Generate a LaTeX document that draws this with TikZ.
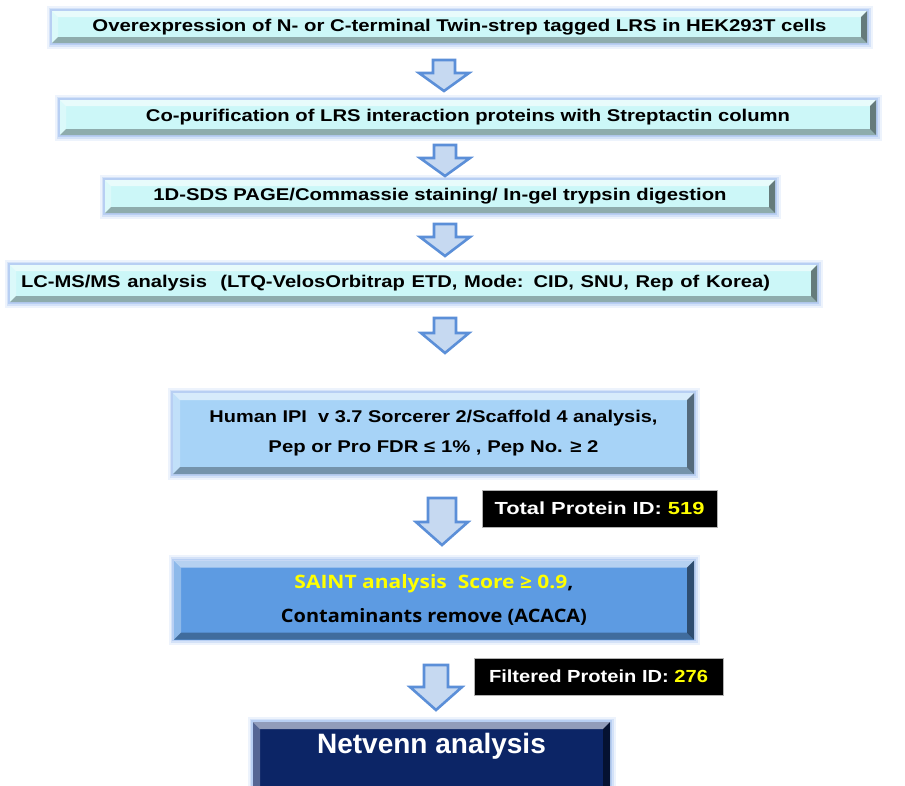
\documentclass[tikz,border=0pt]{standalone}
\usepackage{graphicx}
\usepackage{fontspec}
\setmainfont{Liberation Sans}
\newfontfamily\roundfont{Open Sans}
\definecolor{cyanfill}{HTML}{CCF7F8}
\definecolor{skyfill}{HTML}{A7D3F7}
\definecolor{midblue}{HTML}{5D9BE2}
\definecolor{navy}{HTML}{0C2566}
\definecolor{glowblue}{HTML}{9DBDF0}
\definecolor{arrowfill}{HTML}{C6D9F1}
\definecolor{arrowline}{HTML}{5B8FD8}
\definecolor{hiyellow}{HTML}{FFFF00}
% set a line of text to a given width, keeping its height
\newcommand\fitw[2]{\resizebox{#1}{\height}{#2}}
\tikzset{
  glow/.style={preaction={draw=glowblue,line width=11pt,opacity=.18},
               preaction={draw=glowblue,line width=7pt,opacity=.3},
               preaction={draw=glowblue,line width=3.5pt,opacity=.5}},
  bevel/.style={path picture={
     \fill[white,opacity=.55] (path picture bounding box.north west) -- (path picture bounding box.north east)
        -- ([shift={(-#1,-#1)}]path picture bounding box.north east) -- ([shift={(#1,-#1)}]path picture bounding box.north west) -- cycle;
     \fill[white,opacity=.3] (path picture bounding box.north west) -- (path picture bounding box.south west)
        -- ([shift={(#1,#1)}]path picture bounding box.south west) -- ([shift={(#1,-#1)}]path picture bounding box.north west) -- cycle;
     \fill[black,opacity=.5] (path picture bounding box.north east) -- (path picture bounding box.south east)
        -- ([shift={(-#1,#1)}]path picture bounding box.south east) -- ([shift={(-#1,-#1)}]path picture bounding box.north east) -- cycle;
     \fill[black,opacity=.3] (path picture bounding box.south west) -- (path picture bounding box.south east)
        -- ([shift={(-#1,#1)}]path picture bounding box.south east) -- ([shift={(#1,#1)}]path picture bounding box.south west) -- cycle;
  }},
  flowbox/.style={draw=none, inner sep=0pt, outer sep=0pt, align=center,
                  font=\bfseries\fontsize{17}{20}\selectfont},
  tagbox/.style={fill=black, draw=gray!60, line width=0.8pt, text=white, inner sep=0pt,
                 font=\bfseries\fontsize{17.5}{20}\selectfont},
  blockarrow/.style={fill=arrowfill, draw=arrowline, line width=2.6pt, line join=miter}
}
% downward block arrow: centre x, top, start of head, tip, shaft half-width, head half-width
\newcommand\flowarrow[6]{%
  \draw[blockarrow] (#1-#5,#2) -- (#1+#5,#2) -- (#1+#5,#3) -- (#1+#6,#3) -- (#1,#4)
     -- (#1-#6,#3) -- (#1-#5,#3) -- cycle;}
\begin{document}
\begin{tikzpicture}[x=1pt,y=-1pt]
\useasboundingbox (0,0) rectangle (905,785);
\clip (0,0) rectangle (905,785);
\fill[white] (0,0) rectangle (905,785);

% process steps
\node[flowbox, fill=cyanfill, glow, bevel=6pt, minimum width=815pt, minimum height=32pt]
  (s1) at (459.5,27) {\fitw{734pt}{Overexpression of N- or C-terminal Twin-strep tagged LRS in HEK293T cells}};
\node[flowbox, fill=cyanfill, glow, bevel=6pt, minimum width=816pt, minimum height=35pt]
  (s2) at (468,117.5) {\fitw{644pt}{Co-purification of LRS interaction proteins with Streptactin column}};
\node[flowbox, fill=cyanfill, glow, bevel=6pt, minimum width=670pt, minimum height=33pt]
  (s3) at (440,196.5) {\fitw{573pt}{1D-SDS PAGE/Commassie staining/ In-gel trypsin digestion}};
\node[flowbox, fill=cyanfill, glow, bevel=6pt, minimum width=807pt, minimum height=37pt,
      inner xsep=11pt, text width=785pt, align=left]
  (s4) at (413.5,283.5) {\fitw{749pt}{LC-MS/MS analysis\ \ (LTQ-VelosOrbitrap ETD, Mode: CID, SNU, Rep of Korea)}};
\node[flowbox, fill=skyfill, glow, bevel=7pt, minimum width=521pt, minimum height=81pt,
      font=\bfseries\fontsize{17}{30}\selectfont]
  (s5) at (433.5,433.5) {\fitw{448pt}{Human IPI\ \ v 3.7 Sorcerer 2/Scaffold 4 analysis,}\\
                         \fitw{330pt}{Pep or Pro FDR ≤ 1\% , Pep No. ≥ 2}};
\node[flowbox, fill=midblue, glow, bevel=7pt, minimum width=520pt, minimum height=79pt,
      font=\roundfont\bfseries\fontsize{18.5}{34}\selectfont]
  (s6) at (434,600) {\fitw{279pt}{\textcolor{hiyellow}{SAINT analysis\ \ Score ≥\ 0.9},}\\
                     \fitw{306pt}{Contaminants remove (ACACA)}};
\node[flowbox, fill=navy, glow, bevel=7pt, minimum width=357pt, text height=31pt, text depth=47pt,
      text=white, font=\bfseries\fontsize{28}{32}\selectfont]
  (s7) at (431.5,761) {Netvenn analysis};

% protein counts
\node[tagbox, minimum width=235pt, minimum height=37pt] (t1) at (599.5,508.5)
  {\fitw{210pt}{Total Protein ID: \textcolor{hiyellow}{519}}};
\node[tagbox, minimum width=249pt, minimum height=37pt] (t2) at (598.5,676.5)
  {\fitw{219pt}{Filtered Protein ID: \textcolor{hiyellow}{276}}};

% block arrows between the steps
\flowarrow{444}{60}{73}{91}{11}{25}
\flowarrow{445}{145}{158}{176}{11}{25}
\flowarrow{445}{224}{237}{256}{11}{25}
\flowarrow{445}{318}{333}{353}{11}{24}
\flowarrow{442}{498}{522}{545}{14}{26}
\flowarrow{436}{665}{687}{710}{12}{26}
\end{tikzpicture}
\end{document}
